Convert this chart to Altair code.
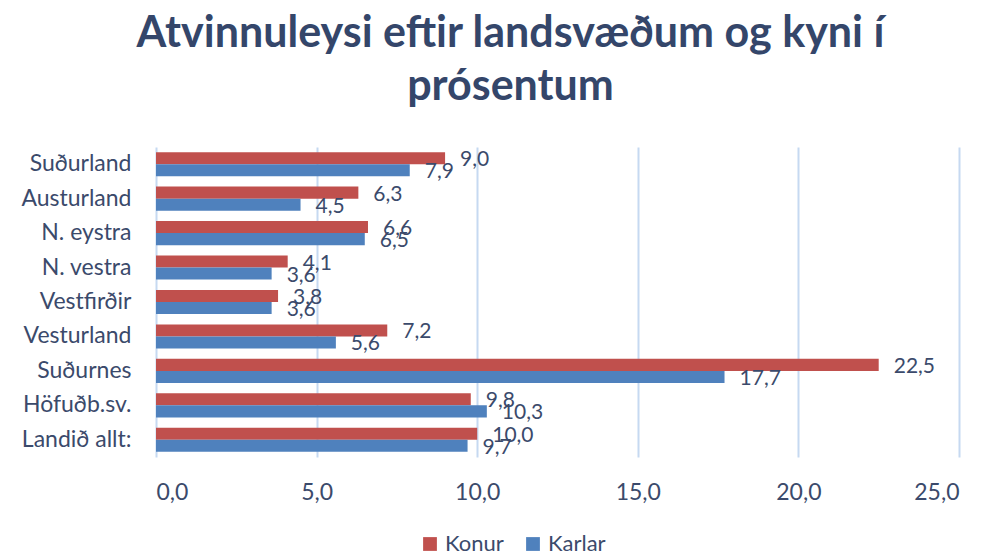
import altair as alt
import pandas as pd

categories = ["Suðurland", "Austurland", "N. eystra", "N. vestra", "Vestfirðir",
              "Vesturland", "Suðurnes", "Höfuðb.sv.", "Landið allt:"]
konur = [9.0, 6.3, 6.6, 4.1, 3.8, 7.2, 22.5, 9.8, 10.0]
karlar = [7.9, 4.5, 6.5, 3.6, 3.6, 5.6, 17.7, 10.3, 9.7]
series = ["Konur", "Karlar"]
colors = ["#c0504d", "#4f81bd"]
x_ticks = [0, 5, 10, 15, 20, 25]

rows = []
for c, k, m in zip(categories, konur, karlar):
    rows.append({"region": c, "kyn": "Konur", "value": k})
    rows.append({"region": c, "kyn": "Karlar", "value": m})
df = pd.DataFrame(rows)

FONT = "Lato"
TXT = "#3b4a6b"

y_enc = alt.Y("region:N", sort=categories,
              scale=alt.Scale(paddingInner=0.3, paddingOuter=0.15),
              axis=alt.Axis(title=None, domain=False, ticks=False, labelPadding=25,
                            labelFontSize=23, labelColor=TXT, labelFont=FONT, grid=False))
yoff = alt.YOffset("kyn:N", sort=series, scale=alt.Scale(paddingInner=0, paddingOuter=0))

base = alt.Chart(df)

bars = base.mark_bar().encode(
    x=alt.X("value:Q", scale=alt.Scale(domain=[0, 25], nice=False),
            axis=alt.Axis(title=None, values=x_ticks, domain=False, ticks=False,
                          labelExpr="replace(format(datum.value, '.1f'), '.', ',')",
                          labelFontSize=23, labelColor=TXT, labelFont=FONT, labelPadding=24,
                          grid=True, gridColor="#c6d9f1", gridWidth=2)),
    y=y_enc,
    yOffset=yoff,
    color=alt.Color("kyn:N", sort=series,
                    scale=alt.Scale(domain=series, range=colors),
                    legend=alt.Legend(title=None, orient="none", direction="horizontal",
                                      legendX=263, legendY=386, symbolType="square",
                                      symbolSize=190, symbolStrokeWidth=0,
                                      labelFontSize=22, labelColor=TXT, labelFont=FONT,
                                      columnPadding=18)),
)

labels = base.transform_calculate(
    lbl="replace(format(datum.value, '.1f'), '.', ',')"
).mark_text(align="left", baseline="middle", dx=15, dy=2, fontSize=21,
            color=TXT, font=FONT).encode(
    x="value:Q",
    y=alt.Y("region:N", sort=categories),
    yOffset=yoff,
    text="lbl:N",
)

chart = (bars + labels).properties(
    width=803, height=310,
    title=alt.TitleParams(["Atvinnuleysi eftir landsvæðum og kyni í", "prósentum"],
                          fontSize=43, font=FONT, fontWeight="bold", color="#34466a",
                          anchor="middle", frame="group", dx=-47, offset=38, lineHeight=53),
    autosize=alt.AutoSizeParams(type="none"),
    padding={"left": 148, "top": 139, "right": 15, "bottom": 100},
).configure_view(stroke=None)

chart.save("out.html", embed_options={"renderer": "svg", "actions": False})
